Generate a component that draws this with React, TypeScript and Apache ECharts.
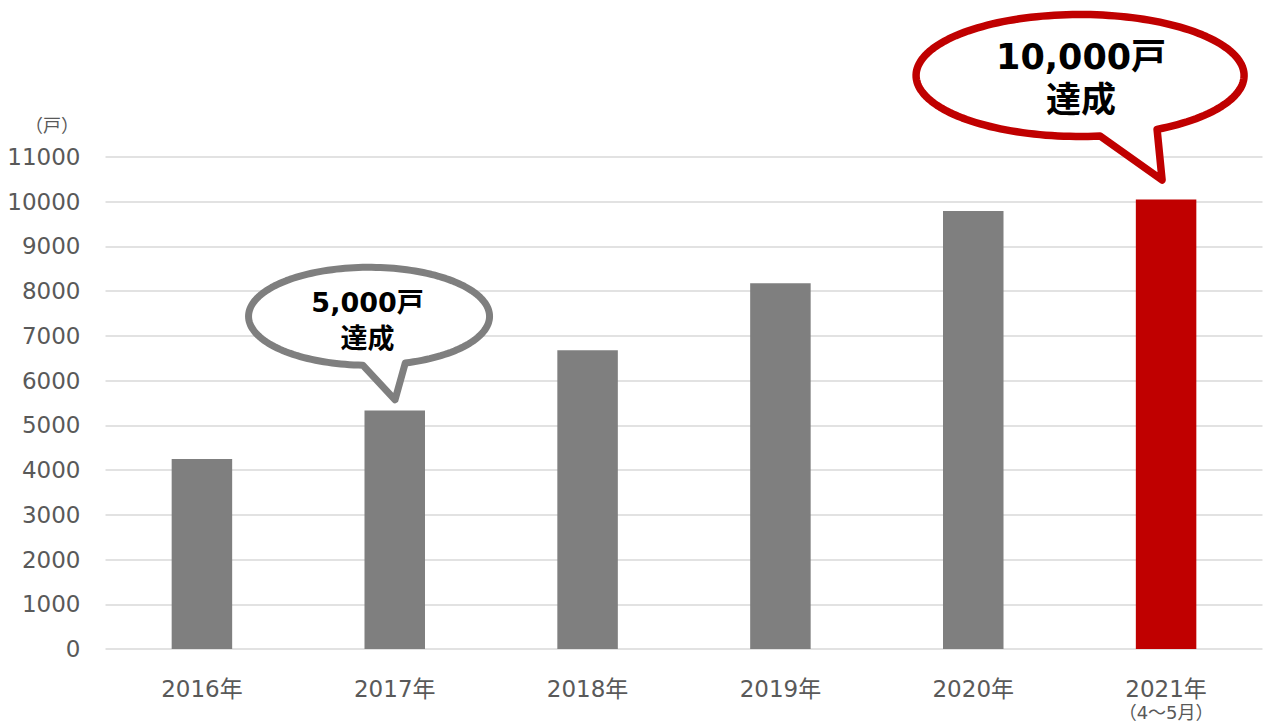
import React, { useEffect, useRef } from "react";
import * as echarts from "echarts";

const categories = ["2016年", "2017年", "2018年", "2019年", "2020年", "2021年"];
const categoryNotes = ["", "", "", "", "", "（4～5月）"];
const households = [4250, 5330, 6680, 8180, 9790, 10050];
const yTicks = { min: 0, max: 11000, interval: 1000 };
const unitLabel = "（戸）";
const calloutSmall = { category: "2017年", value: 5330, line1: "5,000戸", line2: "達成" };
const calloutBig = { category: "2021年", value: 10050, line1: "10,000戸", line2: "達成" };

const GRAY = "#7f7f7f";
const RED = "#c00000";
const AXIS_TEXT = "#595959";

function bubblePath(rx: number, ry: number, tStart: number, tEnd: number, tip: [number, number]) {
  const n = 160;
  let d = "";
  for (let i = 0; i <= n; i++) {
    const t = ((tStart - ((tStart - tEnd) * i) / n) * Math.PI) / 180;
    const x = rx * Math.cos(t);
    const y = ry * Math.sin(t);
    d += (i === 0 ? "M" : "L") + x.toFixed(2) + " " + y.toFixed(2) + " ";
  }
  d += "L" + tip[0] + " " + tip[1] + " Z";
  return d;
}

echarts.graphic.registerShape(
  "bubbleSmall",
  echarts.graphic.extendPath(bubblePath(120.5, 49, 72.5, 93 - 360, [26, 83.5]), {}) as any
);
echarts.graphic.registerShape(
  "bubbleBig",
  echarts.graphic.extendPath(bubblePath(164, 61, 62, 83 - 360, [82, 104.5]), {}) as any
);

const FONT = "DejaVu Sans, 'Noto Sans CJK JP', sans-serif";

export default function App() {
  const ref = useRef<HTMLDivElement>(null);
  useEffect(() => {
    if (!ref.current) return;
    const chart = echarts.init(ref.current, undefined, { renderer: "svg" });
    chart.setOption({
      animation: false,
      grid: { left: 105.5, right: 6.5, top: 157, bottom: 75, containLabel: false },
      xAxis: {
        type: "category",
        data: categories,
        axisLine: { show: false },
        axisTick: { show: false },
        axisLabel: {
          margin: 27,
          formatter: (v: string, i: number) =>
            categoryNotes[i] ? `{a|${v}}\n{b|${categoryNotes[i]}}` : `{a|${v}}`,
          rich: {
            a: { fontSize: 23, lineHeight: 26, color: AXIS_TEXT, fontFamily: FONT },
            b: { fontSize: 18, lineHeight: 21, color: AXIS_TEXT, fontFamily: FONT },
          },
        },
      },
      yAxis: {
        type: "value",
        min: yTicks.min,
        max: yTicks.max,
        interval: yTicks.interval,
        axisLine: { show: false },
        axisTick: { show: false },
        axisLabel: {
          margin: 25,
          fontSize: 23,
          color: AXIS_TEXT,
          fontFamily: FONT,
          formatter: (v: number) => String(v),
        },
        splitLine: { lineStyle: { color: "#d9d9d9", width: 1.5 } },
      },
      series: [
        {
          type: "bar",
          barWidth: 60.5,
          data: households.map((v, i) => ({
            value: v,
            itemStyle: { color: i === households.length - 1 ? RED : GRAY },
          })),
        },
      ],
    });

    const p1 = chart.convertToPixel({ gridIndex: 0 }, [calloutSmall.category, calloutSmall.value]) as number[];
    const p2 = chart.convertToPixel({ gridIndex: 0 }, [calloutBig.category, calloutBig.value]) as number[];
    const c1 = [p1[0] - 25.7, p1[1] - 94.3];
    const c2 = [p2[0] - 86, p2[1] - 124];
    const txt = (x: number, y: number, text: string, size: number) => ({
      type: "text",
      x,
      y,
      z: 110,
      style: {
        text,
        fontSize: size,
        fontWeight: "bold",
        fontFamily: FONT,
        fill: "#000",
        align: "center",
        verticalAlign: "middle",
        textAlign: "center",
        textVerticalAlign: "middle",
      },
    });
    chart.setOption({
      graphic: [
        {
          type: "text",
          x: 52,
          y: 125,
          style: {
            text: unitLabel,
            fontSize: 18,
            fontFamily: FONT,
            fill: AXIS_TEXT,
            align: "center",
            verticalAlign: "middle",
            textAlign: "center",
            textVerticalAlign: "middle",
          },
        },
        {
          type: "bubbleSmall",
          x: c1[0],
          y: c1[1],
          z: 100,
          style: { fill: "#fff", stroke: GRAY, lineWidth: 7, lineJoin: "round" },
        },
        txt(c1[0] - 1.5, c1[1] - 14, calloutSmall.line1, 27),
        txt(c1[0] - 1.5, c1[1] + 22, calloutSmall.line2, 27),
        {
          type: "bubbleBig",
          x: c2[0],
          y: c2[1],
          z: 100,
          style: { fill: "#fff", stroke: RED, lineWidth: 7.5, lineJoin: "round" },
        },
        txt(c2[0] + 1, c2[1] - 18, calloutBig.line1, 35),
        txt(c2[0] + 1, c2[1] + 25, calloutBig.line2, 35),
      ],
    });
    return () => chart.dispose();
  }, []);
  return (
    <div
      ref={ref}
      style={{ position: "fixed", left: 0, top: 0, width: 1269, height: 724, background: "#fff" }}
    />
  );
}
